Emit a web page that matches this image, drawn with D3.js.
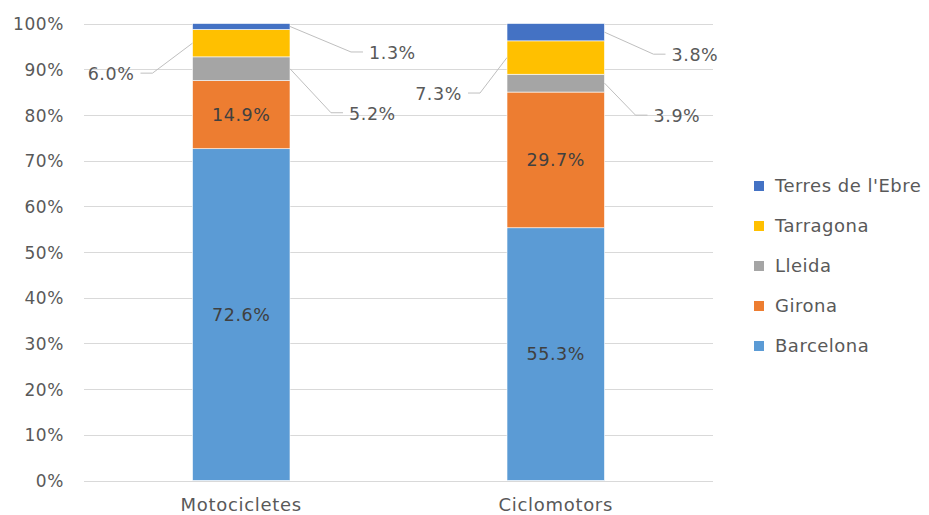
<!DOCTYPE html>
<html><head><meta charset="utf-8">
<script src="https://cdn.jsdelivr.net/npm/d3@7"></script>
<style>
html,body{margin:0;padding:0;background:#fff;}
text{font-family:"DejaVu Sans",sans-serif;fill:#595959;}
</style></head>
<body>
<svg id="chart" width="929" height="515"></svg>
<script>
const categories = ["Motocicletes", "Ciclomotors"];
const seriesNames = ["Barcelona", "Girona", "Lleida", "Tarragona", "Terres de l'Ebre"];
const barcelona = [72.6, 55.3];
const girona = [14.9, 29.7];
const lleida = [5.2, 3.9];
const tarragona = [6.0, 7.3];
const terresEbre = [1.3, 3.8];
const yTicks = [0, 10, 20, 30, 40, 50, 60, 70, 80, 90, 100];
const colors = ["#5B9BD5", "#ED7D31", "#A5A5A5", "#FFC000", "#4472C4"];

// label placement (layout only): series index -> per-category callout offset
const callouts = {
  2: [{dx: 41, dy: 44}, {dx: 31, dy: 32}],
  3: [{dx: -40, dy: 30}, {dx: -27, dy: 35.5}],
  4: [{dx: 61, dy: 25.5}, {dx: 49, dy: 22}]
};

const seriesValues = [barcelona, girona, lleida, tarragona, terresEbre];
const rows = categories.map((c, i) => {
  const r = {category: c};
  seriesNames.forEach((s, k) => r[s] = seriesValues[k][i] / 100);
  return r;
});
const stacked = d3.stack().keys(seriesNames)(rows);

const svg = d3.select("#chart");
const x = d3.scaleBand().domain(categories).range([84, 713]).paddingInner(0.69).paddingOuter(0.345);
const y = d3.scaleLinear().domain([0, 1]).range([480.5, 23.5]);

// gridlines
svg.append("g").selectAll("line").data(yTicks).join("line")
  .attr("x1", 84).attr("x2", 713)
  .attr("y1", d => Math.round(y(d / 100)) + 0.5).attr("y2", d => Math.round(y(d / 100)) + 0.5)
  .attr("stroke", "#d9d9d9").attr("stroke-width", 1);

// y axis
const yAxis = d3.axisLeft(y).tickValues(yTicks.map(d => d / 100))
  .tickFormat(d => Math.round(d * 100) + "%").tickSize(0).tickPadding(0);
const ya = svg.append("g").attr("transform", "translate(64,0)").call(yAxis);
ya.select(".domain").remove();
ya.selectAll("text").attr("font-size", 17).attr("fill", "#595959")
  .style("font-family", "DejaVu Sans").style("letter-spacing", "0.6px").attr("dy", "0.36em");

// x axis
const xAxis = d3.axisBottom(x).tickSize(0).tickPadding(0);
const xa = svg.append("g").attr("transform", "translate(0,505)").call(xAxis);
xa.select(".domain").remove();
xa.selectAll("text").attr("font-size", 18).attr("fill", "#595959")
  .style("font-family", "DejaVu Sans").style("letter-spacing", "0.7px").attr("dy", "0.36em");

// bars
const layers = svg.append("g").selectAll("g").data(stacked).join("g")
  .attr("fill", (d, i) => colors[i]);
layers.selectAll("rect").data(d => d).join("rect")
  .attr("x", d => x(d.data.category))
  .attr("width", x.bandwidth())
  .attr("y", d => y(d[1]))
  .attr("height", d => y(d[0]) - y(d[1]))
  .attr("stroke", "#ffffff").attr("stroke-width", 0.6);

const fmt = v => (v * 100).toFixed(1) + "%";
const lab = svg.append("g");
stacked.forEach((layer, si) => {
  layer.forEach((d, ci) => {
    const val = d[1] - d[0];
    const mid = (y(d[0]) + y(d[1])) / 2;
    const cx = x(d.data.category) + x.bandwidth() / 2;
    if (!callouts[si]) {
      lab.append("text").attr("x", cx).attr("y", mid).attr("dy", "0.36em")
        .attr("text-anchor", "middle").attr("font-size", 17.5)
        .style("letter-spacing", "0.6px").style("fill", "#404040").text(fmt(val));
    } else {
      const c = callouts[si][ci];
      const left = c.dx < 0;
      const x0 = left ? x(d.data.category) : x(d.data.category) + x.bandwidth();
      const ex = x0 + c.dx, ey = mid + c.dy;
      const hx = ex + (left ? -12 : 12);
      lab.append("polyline")
        .attr("points", `${x0},${mid} ${ex},${ey} ${hx},${ey}`)
        .attr("fill", "none").attr("stroke", "#bfbfbf").attr("stroke-width", 1);
      lab.append("text").attr("x", hx + (left ? -6 : 6)).attr("y", ey + 1).attr("dy", "0.36em")
        .attr("text-anchor", left ? "end" : "start").attr("font-size", 17.5)
        .style("letter-spacing", "0.6px").text(fmt(val));
    }
  });
});

// legend
const legendOrder = seriesNames.map((s, i) => i).reverse();
const lg = svg.append("g");
legendOrder.forEach((si, r) => {
  const cy = 186 + r * 40;
  lg.append("rect").attr("x", 754).attr("y", cy - 5).attr("width", 10).attr("height", 10).attr("fill", colors[si]);
  lg.append("text").attr("x", 775).attr("y", cy).attr("dy", "0.36em")
    .attr("font-size", 18).style("letter-spacing", "0.5px").text(seriesNames[si]);
});
</script>
</body></html>
